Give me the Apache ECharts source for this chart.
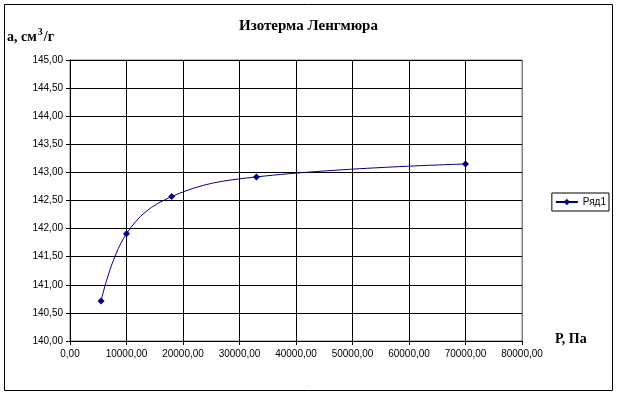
<!DOCTYPE html>
<html><head><meta charset="utf-8">
<script src="https://cdn.jsdelivr.net/npm/echarts@6/dist/echarts.min.js"></script>
<style>html,body{margin:0;padding:0;background:#fff}#c{width:617px;height:396px}</style>
</head><body><div id="c"></div>
<script>
const pressure = [5500, 10000, 18000, 33000, 70000];
const adsorption = [140.71, 141.91, 142.57, 142.92, 143.15];
const seriesName = 'Ряд1';
const titleText = 'Изотерма Ленгмюра';

const fmt = v => v.toFixed(2).replace('.', ',');
const chart = echarts.init(document.getElementById('c'));
const serif = '"Liberation Serif","Times New Roman",serif';
const sans = '"Liberation Sans",Arial,sans-serif';
chart.setOption({
  animation: false,
  title: {text: titleText, left: 'center', top: 19, padding: 0,
    textStyle: {fontFamily: serif, fontWeight: 'bold', fontSize: 15, color: '#000'}},
  graphic: [
    {type: 'rect', shape: {x: 4.5, y: 4.5, width: 608, height: 386}, style: {fill: null, stroke: '#000', lineWidth: 1}, silent: true},
    {type: 'text', left: 7, top: 27, style: {rich: {n: {fontFamily: serif, fontWeight: 'bold', fontSize: 14, fill: '#000'}, s: {fontFamily: serif, fontWeight: 'bold', fontSize: 10, fill: '#000', verticalAlign: 'top', padding: [0,1,10,1]}}, text: '{n|а, см}{s|3}{n|/г}'}},
    {type: 'text', left: 555, top: 332, style: {text: 'Р, Па', fontFamily: serif, fontWeight: 'bold', fontSize: 14, fill: '#000'}}
  ],
  legend: {right: 8, top: 193, orient: 'vertical', borderColor: '#000', borderWidth: 1, padding: [4, 3, 4, 3],
    itemWidth: 22, itemHeight: 8, itemGap: 2,
    textStyle: {fontFamily: sans, fontSize: 10, color: '#000'}, data: [seriesName]},
  grid: {left: 70, top: 60, width: 452, height: 281, show: true, borderColor: '#808080', borderWidth: 1},
  xAxis: {type: 'value', min: 0, max: 80000, interval: 10000,
    axisLine: {lineStyle: {color: '#000'}}, axisTick: {show: true, length: 4, lineStyle: {color: '#000'}},
    axisLabel: {formatter: fmt, fontFamily: sans, fontSize: 10, color: '#000', margin: 8},
    splitLine: {show: true, lineStyle: {color: ['#000','#000','#000','#000','#000','#000','#000','#000','#808080'], width: 1}}},
  yAxis: {type: 'value', min: 140, max: 145, interval: 0.5,
    axisLine: {show: true, lineStyle: {color: '#000'}}, axisTick: {show: true, length: 4, lineStyle: {color: '#000'}},
    axisLabel: {formatter: fmt, fontFamily: sans, fontSize: 10, color: '#000', margin: 7},
    splitLine: {show: true, lineStyle: {color: '#000', width: 1}}},
  series: [{name: seriesName, type: 'line', smooth: 0.4,
    data: pressure.map((p, i) => [p, adsorption[i]]),
    symbol: 'diamond', symbolSize: 7, showAllSymbol: true,
    lineStyle: {color: '#000080', width: 1}, itemStyle: {color: '#000080'}}]
});
</script></body></html>
